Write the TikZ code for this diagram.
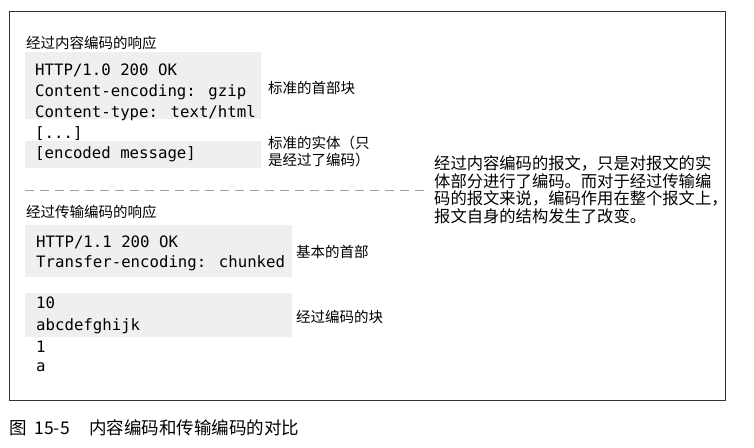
\documentclass[tikz,border=0pt]{standalone}
\usepackage{fontspec}
\setmainfont{Noto Sans CJK SC}
\newfontfamily\codefont{DejaVu Sans Mono}
\usetikzlibrary{positioning}
\definecolor{figframe}{HTML}{333333}
\definecolor{codeshade}{HTML}{EFEFEF}
\definecolor{splitgrey}{HTML}{A0A0A0}

\begin{document}
\begin{tikzpicture}[
  x=1pt, y=-1pt,
  shadebox/.style={fill=codeshade, anchor=north west, inner sep=0pt},
  code/.style={font=\codefont\fontsize{15.7}{21}\selectfont, anchor=base west, inner sep=0pt},
  head/.style={font=\fontsize{14.5}{17}\selectfont, anchor=base west, inner sep=0pt},
  note/.style={font=\fontsize{14.5}{17}\selectfont, anchor=west, inner sep=0pt, align=left},
]
\useasboundingbox (0,0) rectangle (754,447);

% outer frame
\draw[figframe, line width=1pt] (9,11) rectangle (725,400);

% ============ upper part: content encoding ============
\node[head] (ceTitle) at (26,48) {经过内容编码的响应};
\node[shadebox, minimum width=236pt, minimum height=67pt] (ceHdr) at (25,52) {};
\node[shadebox, minimum width=236pt, minimum height=27pt] (ceBody) at (25,141) {};
\node[code] (ceL1) at (35,75) {HTTP/1.0 200 OK};
\node[code] (ceL2) at (35,96) {Content-encoding: gzip};
\node[code] (ceL3) at (35,117) {Content-type: text/html};
\node[code] (ceL4) at (35,138) {[...]};
\node[code] (ceL5) at (35,158) {[encoded message]};
\node[note] (ceHdrNote) at (268,88) {标准的首部块};
\node[note] (ceBodyNote) at (268,151) {标准的实体（只\\是经过了编码）};

% ============ split line ============
\draw[splitgrey, dash pattern=on 9pt off 6pt] (25,190) -- (425,190);

% ============ lower part: transfer encoding ============
\node[head] (teTitle) at (26,217) {经过传输编码的响应};
\node[shadebox, minimum width=267pt, minimum height=52pt] (teHdr) at (25,225) {};
\node[shadebox, minimum width=267pt, minimum height=44pt] (teChunk) at (25,293) {};
\node[code] (teL1) at (36,247) {HTTP/1.1 200 OK};
\node[code] (teL2) at (36,267) {Transfer-encoding: chunked};
\node[code] (teL3) at (36,308) {10};
\node[code] (teL4) at (36,330) {abcdefghijk};
\node[code] (teL5) at (36,352) {1};
\node[code] (teL6) at (36,371) {a};
\node[note] (teHdrNote) at (296,252) {基本的首部};
\node[note] (teChunkNote) at (296,317) {经过编码的块};

% summary on the right
\node[note, font=\fontsize{16.3}{17.6}\selectfont] (summary) at (434,190)
  {经过内容编码的报文，只是对报文的实\\体部分进行了编码。而对于经过传输编\\码的报文来说，编码作用在整个报文上，\\报文自身的结构发生了改变。};

% caption
\node[anchor=base west, inner sep=0pt, font=\fontsize{17.5}{20}\selectfont] (caption) at (9,434)
  {图\hspace{0.45em}15-5\hspace{1.1em}内容编码和传输编码的对比};

\end{tikzpicture}
\end{document}
